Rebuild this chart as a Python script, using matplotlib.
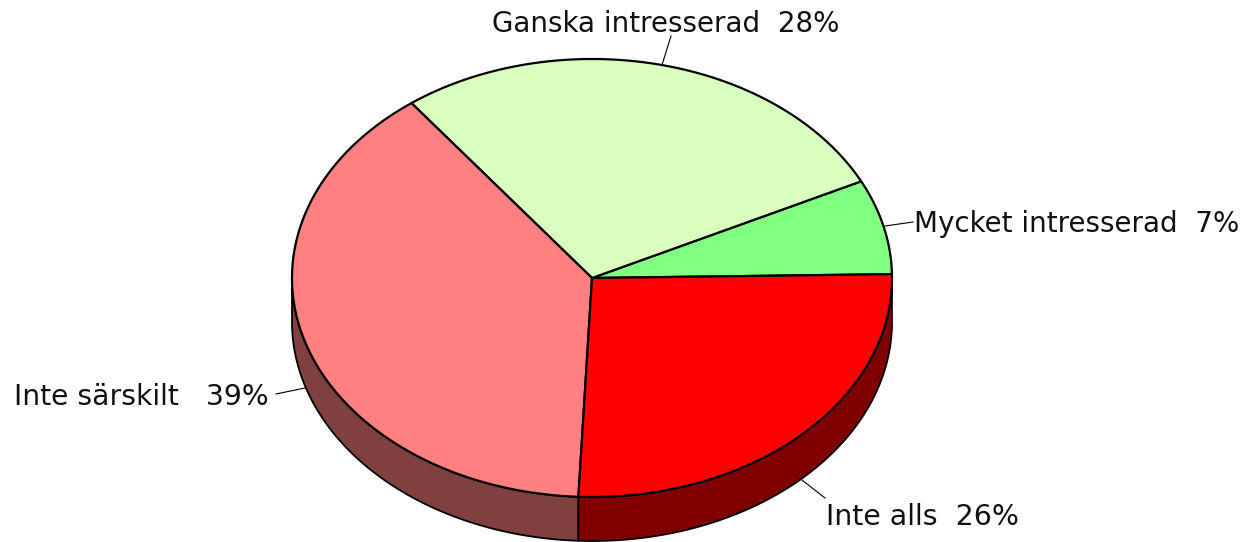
import numpy as np
import matplotlib
matplotlib.use('Agg')
import matplotlib.pyplot as plt
from matplotlib.patches import Polygon

labels = ["Mycket intresserad  7%", "Ganska intresserad  28%", "Inte särskilt   39%", "Inte alls  26%"]
values = [7, 28, 39, 26]
colors = ["#80ff80", "#d9ffbf", "#ff8080", "#ff0000"]
side_colors = ["#408040", "#6c8060", "#804040", "#800000"]

W, H = 1243, 542
CX, CY, RX, RY = 592, 278, 300, 219
DEPTH = 44
START = 1.0

plt.rcParams['font.family'] = ['DejaVu Sans']
fig = plt.figure(figsize=(W / 100, H / 100), dpi=100)
ax = fig.add_axes([0, 0, 1, 1])
# axes in pixels of the image, y going down
ax.set_xlim(0, W)
ax.set_ylim(H, 0)
ax.axis('off')


def rim(a0, a1):
    t = np.radians(np.linspace(a0, a1, 200))
    return CX + RX * np.cos(t), CY - RY * np.sin(t)


edges = START + np.cumsum([0] + values) * 3.6

# side wall, only the front half shows
for i in range(len(values)):
    a0 = max(edges[i], 180)
    a1 = edges[i + 1]
    if a1 <= a0:
        continue
    x, y = rim(a0, a1)
    pts = np.r_[np.c_[x, y], np.c_[x[::-1], y[::-1] + DEPTH]]
    ax.add_patch(Polygon(pts, closed=True, fc=side_colors[i], ec='black', lw=1.3, joinstyle='round'))

# top face
for i in range(len(values)):
    x, y = rim(edges[i], edges[i + 1])
    pts = np.r_[[[CX, CY]], np.c_[x, y]]
    ax.add_patch(Polygon(pts, closed=True, fc=colors[i], ec='black', lw=1.6, joinstyle='round'))

# labels with leader lines
ax.plot([913, 885], [222, 226], color='black', lw=0.8)
ax.plot([671, 662], [36, 65], color='black', lw=0.8)
ax.plot([276, 305], [394, 388], color='black', lw=0.8)
ax.plot([825, 802], [498, 480], color='black', lw=0.8)

ax.text(914, 232, labels[0], fontsize=19.95, va='baseline', ha='left', color='#111111')
ax.text(492, 32, labels[1], fontsize=19.95, va='baseline', ha='left', color='#111111')
ax.text(14, 405, labels[2], fontsize=20.3, va='baseline', ha='left', color='#111111')
ax.text(826, 525, labels[3], fontsize=20.4, va='baseline', ha='left', color='#111111')

fig.savefig('out.png', dpi=100)
